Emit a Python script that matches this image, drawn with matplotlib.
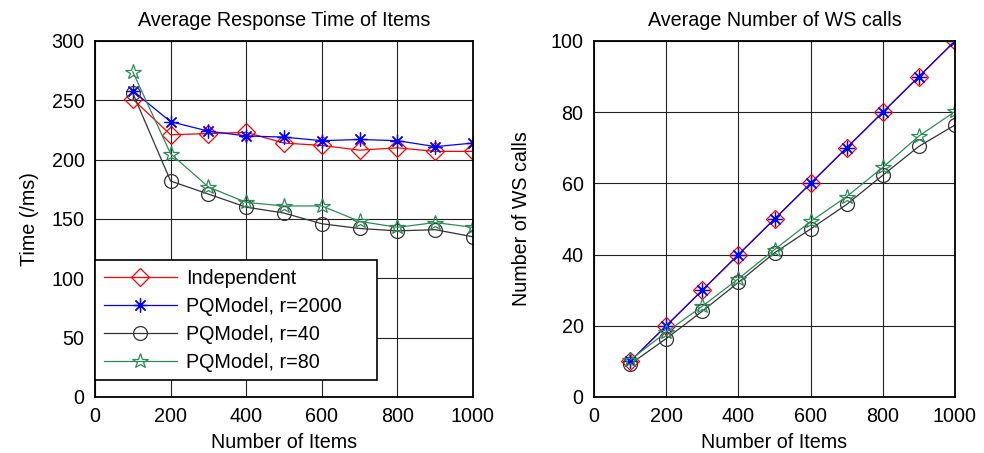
import matplotlib
matplotlib.use("Agg")
import matplotlib.pyplot as plt

plt.rcParams['font.family'] = ['Liberation Sans', 'DejaVu Sans']

items = [100, 200, 300, 400, 500, 600, 700, 800, 900, 1000]

# Left: average response time (ms)
time_independent = [251, 221, 222, 223, 214, 212, 208, 210, 207, 207]
time_r2000 = [258, 232, 224, 220, 219, 216, 217, 216, 211, 214]
time_r40 = [256, 182, 171, 160, 155, 146, 142, 140, 141, 135]
time_r80 = [274, 205, 177, 164, 161, 161, 148, 143, 147, 143]

# Right: number of WS calls
ws_independent = [10, 20, 30, 40, 50, 60, 70, 80, 90, 100]
ws_r2000 = [10, 20, 30, 40, 50, 60, 70, 80, 90, 100]
ws_r40 = [9.2, 16.4, 24.1, 32.2, 40.5, 47.2, 54.1, 62.3, 70.4, 76.4]
ws_r80 = [10.4, 18.2, 25.5, 33.2, 41.4, 49.3, 56.3, 64.5, 73.3, 80.2]

labels = ['Independent', 'PQModel, r=2000', 'PQModel, r=40', 'PQModel, r=80']
colors = ['#ff0000', '#0000ff', '#333333', '#2e8b57']
markers = ['D', (8, 2, 0), 'o', '*']
msizes = [9, 10, 10, 11.5]

FS = 14.2

fig = plt.figure(figsize=(9.84, 4.53), dpi=100)
ax1 = fig.add_axes([95/984, 1-397/453, (473-95)/984, (397-41)/453])
ax2 = fig.add_axes([594/984, 1-397/453, (955-594)/984, (397-41)/453])

def style(ax):
    ax.grid(True, color='#222222', lw=0.8)
    ax.set_axisbelow(True)
    for s in ax.spines.values():
        s.set_linewidth(1.3)
        s.set_color('black')
    ax.tick_params(direction='in', length=0, labelsize=FS, pad=7.5)

for data, lab, c, m, ms in zip([time_independent, time_r2000, time_r40, time_r80], labels, colors, markers, msizes):
    ax1.plot(items, data, color=c, lw=0.9, marker=m, ms=ms, mfc='none', mec=c, mew=0.9, label=lab)
for data, lab, c, m, ms in zip([ws_independent, ws_r2000, ws_r40, ws_r80], labels, colors, markers, msizes):
    ax2.plot(items, data, color=c, lw=0.9, marker=m, ms=ms, mfc='none', mec=c, mew=0.9, label=lab)

style(ax1)
style(ax2)
ax1.set_xlim(0, 1000)
ax1.set_ylim(0, 300)
ax1.set_xticks(range(0, 1001, 200))
ax1.set_yticks(range(0, 301, 50))
ax2.set_xlim(0, 1000)
ax2.set_ylim(0, 100)
ax2.set_xticks(range(0, 1001, 200))
ax2.set_yticks(range(0, 101, 20))

ax1.set_title('Average Response Time of Items', fontsize=FS, pad=11)
ax2.set_title('Average Number of WS calls', fontsize=FS, pad=11)
ax1.set_xlabel('Number of Items', fontsize=FS, labelpad=4.5)
ax2.set_xlabel('Number of Items', fontsize=FS, labelpad=4.5)
ax1.set_ylabel('Time (/ms)', fontsize=FS, labelpad=9)
ax2.set_ylabel('Number of WS calls', fontsize=FS, labelpad=14)

leg_w = (377 - 95) / 378
leg_top = (397 - 260) / 356
leg_h = 120 / 356
leg = ax1.legend(loc='upper left', bbox_to_anchor=(0.0, leg_top - leg_h, leg_w, leg_h),
                 mode='expand', fontsize=FS,
                 frameon=True, fancybox=False, framealpha=1, edgecolor='black',
                 borderpad=0.45, labelspacing=0.45, handlelength=3.7, handletextpad=0.45,
                 borderaxespad=0)
leg.get_frame().set_linewidth(1.2)

fig.savefig('out.png', dpi=100)
